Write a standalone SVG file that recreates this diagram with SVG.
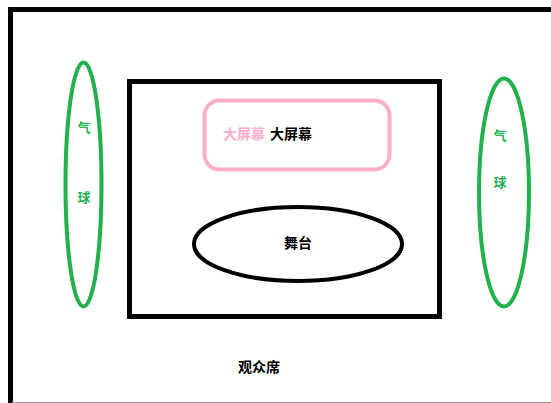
<svg xmlns="http://www.w3.org/2000/svg" width="551" height="403" viewBox="0 0 551 403">
<style>
.t{font-family:"Noto Sans CJK SC",sans-serif;font-size:14px;text-anchor:middle;dominant-baseline:central;font-weight:bold}
.b{fill:#000}
.g{fill:#22B14C;font-size:13px}
.balloon{fill:none;stroke:#22B14C;stroke-width:4}
</style>
<rect width="551" height="403" fill="#fff"/>
<g id="venue">
<path d="M10.5 403 V9.5 H551" fill="none" stroke="#000" stroke-width="5"/>
<line x1="12" y1="402.5" x2="551" y2="402.5" stroke="#999" stroke-width="1"/>
<text class="t b" x="259" y="366">观众席</text>
</g>
<g id="hall">
<rect x="129.5" y="81.5" width="310" height="235" fill="none" stroke="#000" stroke-width="5"/>
</g>
<g id="screen">
<rect x="204.5" y="100.5" width="185" height="69" rx="15" fill="none" stroke="#FFAEC9" stroke-width="4"/>
<text class="t" x="244" y="133" fill="#FFAEC9">大屏幕</text>
<text class="t b" x="291" y="133">大屏幕</text>
</g>
<g id="stage">
<ellipse cx="298" cy="244" rx="104" ry="37" fill="none" stroke="#000" stroke-width="4"/>
<text class="t b" x="298" y="242">舞台</text>
</g>
<g id="balloon-left">
<ellipse class="balloon" cx="83.5" cy="184.5" rx="18" ry="122"/>
<text class="t g" x="84" y="126">气</text>
<text class="t g" x="84" y="196">球</text>
</g>
<g id="balloon-right">
<ellipse class="balloon" cx="504" cy="192.5" rx="25" ry="114"/>
<text class="t g" x="500" y="134">气</text>
<text class="t g" x="500" y="181">球</text>
</g>
<g id="connectors"></g>
</svg>
